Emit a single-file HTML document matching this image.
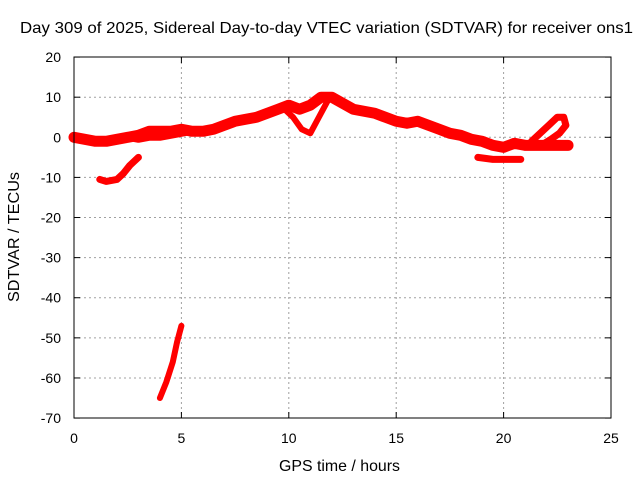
<!DOCTYPE html>
<html><head><meta charset="utf-8"><style>
body{margin:0;background:#fff}
svg text{font-family:"Liberation Sans",sans-serif;font-size:14px;fill:#000}
</style></head><body>
<svg id="chart" width="640" height="480" xmlns="http://www.w3.org/2000/svg">
<text x="20" y="33" style="font-size:16px" textLength="613" lengthAdjust="spacingAndGlyphs">Day 309 of 2025, Sidereal Day-to-day VTEC variation (SDTVAR) for receiver ons1</text>
<text x="279" y="471" style="font-size:16px" textLength="121" lengthAdjust="spacingAndGlyphs">GPS time / hours</text>
<text transform="translate(19,302) rotate(-90)" style="font-size:16px" textLength="130" lengthAdjust="spacingAndGlyphs">SDTVAR / TECUs</text>
<g id="grid"></g><g id="axes"></g><g id="series"></g>
<rect x="74" y="57" width="537" height="361" fill="none" stroke="#000" stroke-width="1"/>
</svg>
<script>
const xTicks=[0,5,10,15,20,25];
const yTicks=[20,10,0,-10,-20,-30,-40,-50,-60,-70];
const mainHours=[0,0.5,1,1.5,2,2.5,3,3.5,4,4.5,5,5.5,6,6.5,7,7.5,8,8.5,9,9.5,10,10.5,11,11.5,12,12.5,13,13.5,14,14.5,15,15.5,16,16.5,17,17.5,18,18.5,19,19.5,20,20.5,21,21.5,22,22.5,23];
const mainValues=[0,-0.5,-1,-1,-0.5,0,0.5,1.5,1.5,1.5,2,1.5,1.5,2,3,4,4.5,5,6,7,8,7,8,10,10,8.5,7,6.5,6,5,4,3.5,4,3,2,1,0.5,-0.5,-1,-2,-2.5,-1.5,-2,-2,-2,-2,-2];
const lowerHours=[2.5,3,3.5,4,4.5,5,5.5];
const lowerValues=[0,-0.5,0,0,0.5,1,1.5];
const dipHours=[9.8,10.2,10.6,11,11.4,11.8];
const dipValues=[7,5,2,1,5,9];
const loopHours=[21.3,21.7,22.1,22.5,22.8,22.9,22.6,22.2,21.9,21.6];
const loopValues=[-1,1,3,5,5,3,1,-0.5,-1.5,-2];
const arcHours=[1.2,1.5,2,2.3,2.6,3];
const arcValues=[-10.5,-11,-10.5,-9,-7,-5];
const steepHours=[4,4.3,4.6,4.8,5];
const steepValues=[-65,-61,-56,-51,-47];
const flatHours=[18.8,19.5,20.2,20.8];
const flatValues=[-5,-5.5,-5.5,-5.5];
const X=h=>74+h*21.48, Y=v=>137.3-v*4.011;
const NS="http://www.w3.org/2000/svg";
const g=document.getElementById('grid'), ax=document.getElementById('axes'), s=document.getElementById('series');
function el(t,a,p){const e=document.createElementNS(NS,t);for(const k in a)e.setAttribute(k,a[k]);p.appendChild(e);return e;}
xTicks.forEach(t=>{
  if(t>0&&t<25){const l=el('line',{x1:X(t),x2:X(t),y1:57,y2:418,stroke:'#a0a0a0','stroke-dasharray':'2,3'},g);
  
  }
  el('line',{x1:X(t),x2:X(t),y1:418,y2:412,stroke:'#000'},ax);
  el('line',{x1:X(t),x2:X(t),y1:57,y2:63,stroke:'#000'},ax);
  const tx=el('text',{x:X(t),y:443,'text-anchor':'middle'},ax);tx.textContent=t;
  
  
});
yTicks.forEach(t=>{
  if(t<20&&t>-70){const l=el('line',{x1:74,x2:611,y1:Y(t),y2:Y(t),stroke:'#a0a0a0','stroke-dasharray':'2,3'},g);
  
  }
  el('line',{x1:74,x2:80,y1:Y(t),y2:Y(t),stroke:'#000'},ax);
  el('line',{x1:605,x2:611,y1:Y(t),y2:Y(t),stroke:'#000'},ax);
  const tx=el('text',{x:61,y:Y(t)+5,'text-anchor':'end'},ax);tx.textContent=t;
  
  
});
function track(hs,vs,w,name){
  const pts=hs.map((h,i)=>X(h)+','+Y(vs[i])).join(' ');
  const p=el('polyline',{points:pts,fill:'none',stroke:'#ff0000','stroke-width':w,'stroke-linejoin':'round','stroke-linecap':'round'},s);
  
  
}
track(mainHours,mainValues,11,'main-track');
track(lowerHours,lowerValues,7,'lower-track');
track(dipHours,dipValues,6,'dip-track');
track(loopHours,loopValues,7,'loop-track');
track(arcHours,arcValues,7,'arc-track');
track(steepHours,steepValues,6,'steep-track');
track(flatHours,flatValues,7,'flat-track');
</script>
</body></html>
